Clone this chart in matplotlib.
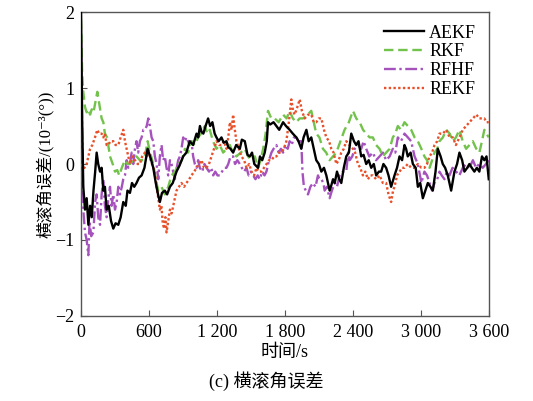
import matplotlib
matplotlib.use("Agg")
import matplotlib.pyplot as plt

# 横滚角误差 (10^-3 deg) 读图得到的 (时间 s, 误差) 点
aekf = [(0, 2.0), (10, 0.6), (20, -0.3), (35, -0.6), (50, -0.45), (65, -0.8), (80, -0.55), (95, -0.7),
        (110, -0.35), (125, -0.1), (138, 0.15), (152, 0.0), (168, -0.1), (182, -0.05), (197, -0.35),
        (211, -0.3), (226, -0.6), (245, -0.55), (265, -0.75), (285, -0.85), (305, -0.78), (329, -0.8),
        (350, -0.7), (373, -0.5), (395, -0.55), (410, -0.35), (432, -0.38), (450, -0.25), (470, -0.3),
        (490, -0.25), (512, -0.18), (535, -0.15), (560, -0.05), (588, 0.2), (605, 0.12), (620, 0.05),
        (638, -0.05), (660, -0.25), (680, -0.4), (696, -0.5), (715, -0.38), (740, -0.35), (760, -0.4),
        (785, -0.3), (810, -0.25), (843, -0.1), (870, -0.02), (902, 0.1), (930, 0.15), (960, 0.3),
        (990, 0.25), (1020, 0.4), (1035, 0.35), (1050, 0.5), (1065, 0.42), (1080, 0.4), (1100, 0.5),
        (1122, 0.6), (1140, 0.5), (1160, 0.55), (1180, 0.4), (1196, 0.35), (1215, 0.3), (1240, 0.35),
        (1260, 0.28), (1284, 0.3), (1300, 0.22), (1320, 0.2), (1343, 0.15), (1370, 0.25), (1402, 0.2),
        (1420, 0.32), (1446, 0.3), (1470, 0.12), (1490, 0.1), (1510, 0.15), (1530, 0.0), (1563, -0.05),
        (1580, 0.1), (1600, 0.05), (1622, 0.15), (1640, 0.3), (1651, 0.55), (1670, 0.52), (1700, 0.55),
        (1725, 0.5), (1750, 0.45), (1784, 0.55), (1810, 0.5), (1842, 0.45), (1870, 0.4), (1901, 0.35),
        (1920, 0.3), (1945, 0.2), (1965, 0.35), (1990, 0.45), (2010, 0.3), (2033, 0.35), (2055, 0.2),
        (2077, 0.05), (2100, 0.0), (2122, -0.1), (2145, -0.05), (2166, -0.15), (2195, -0.35),
        (2210, -0.28), (2225, -0.2), (2240, -0.25), (2260, -0.1), (2280, -0.2), (2298, -0.25),
        (2320, -0.05), (2342, 0.1), (2365, 0.15), (2386, 0.4), (2410, 0.3), (2430, 0.25), (2450, 0.3),
        (2474, 0.1), (2495, 0.12), (2518, 0.0), (2540, 0.05), (2562, -0.05), (2585, 0.0), (2606, -0.15),
        (2630, -0.1), (2650, -0.1), (2670, 0.0), (2694, -0.05), (2715, -0.15), (2738, -0.3),
        (2768, -0.15), (2790, -0.05), (2812, 0.1), (2835, 0.05), (2856, 0.25), (2870, 0.2), (2885, 0.1),
        (2910, 0.15), (2930, 0.0), (2955, -0.05), (2974, -0.3), (2995, -0.25), (3018, -0.45),
        (3040, -0.35), (3062, -0.25), (3085, -0.3), (3106, -0.35), (3130, -0.1), (3150, 0.2),
        (3175, 0.1), (3194, 0.0), (3215, -0.05), (3238, -0.15), (3268, -0.35), (3297, -0.1),
        (3320, 0.0), (3341, 0.15), (3365, 0.05), (3385, -0.1), (3410, -0.05), (3429, 0.0),
        (3450, -0.05), (3473, -0.1), (3495, -0.05), (3517, -0.1), (3540, 0.1), (3561, 0.05),
        (3580, 0.1), (3600, -0.2)]

rkf = [(0, 1.9), (10, 1.2), (20, 0.95), (35, 0.75), (50, 0.68), (65, 0.72), (80, 0.65), (95, 0.72),
       (110, 0.68), (125, 0.8), (144, 0.95), (160, 0.8), (182, 0.6), (197, 0.55), (211, 0.4), (230, 0.35),
       (256, 0.1), (280, 0.0), (300, -0.1), (320, -0.08), (338, -0.15), (360, -0.05), (388, 0.05),
       (410, 0.0), (432, 0.0), (460, 0.05), (490, 0.1), (520, 0.05), (550, 0.05), (570, 0.15),
       (588, 0.3), (610, 0.15), (638, 0.0), (660, -0.2), (682, -0.35), (710, -0.3), (740, -0.4),
       (770, -0.3), (799, -0.15), (830, -0.1), (858, 0.0), (890, 0.05), (917, 0.2), (945, 0.15),
       (975, 0.3), (1005, 0.25), (1034, 0.35), (1060, 0.4), (1093, 0.5), (1115, 0.4), (1137, 0.45),
       (1165, 0.3), (1196, 0.2), (1225, 0.25), (1255, 0.15), (1285, 0.2), (1314, 0.25), (1340, 0.15),
       (1372, 0.1), (1410, 0.15), (1446, 0.2), (1475, 0.1), (1505, 0.05), (1535, 0.1), (1563, -0.05),
       (1585, 0.05), (1608, 0.2), (1630, 0.4), (1651, 0.7), (1680, 0.6), (1710, 0.6), (1745, 0.55),
       (1784, 0.65), (1815, 0.6), (1842, 0.7), (1870, 0.6), (1901, 0.55), (1930, 0.6), (1960, 0.6),
       (2000, 0.65), (2033, 0.7), (2055, 0.55), (2077, 0.4), (2105, 0.35), (2136, 0.2), (2165, 0.15),
       (2195, 0.05), (2225, 0.1), (2254, 0.15), (2290, 0.3), (2327, 0.45), (2365, 0.55), (2401, 0.7),
       (2430, 0.6), (2460, 0.55), (2490, 0.45), (2518, 0.4), (2548, 0.35), (2577, 0.35), (2605, 0.25),
       (2636, 0.2), (2665, 0.1), (2694, 0.15), (2725, 0.2), (2753, 0.35), (2775, 0.4), (2797, 0.5),
       (2825, 0.45), (2856, 0.55), (2885, 0.5), (2915, 0.45), (2945, 0.35), (2974, 0.3), (3005, 0.2),
       (3032, 0.1), (3055, 0.05), (3077, -0.05), (3100, 0.05), (3121, 0.15), (3145, 0.2), (3165, 0.3),
       (3195, 0.35), (3224, 0.45), (3255, 0.4), (3283, 0.3), (3310, 0.35), (3341, 0.45), (3370, 0.3),
       (3400, 0.2), (3430, 0.25), (3459, 0.3), (3490, 0.2), (3517, 0.15), (3540, 0.3), (3561, 0.45),
       (3580, 0.4), (3600, 0.35)]

rfhf = [(0, 1.6), (10, 0.4), (20, -0.6), (35, -0.9), (50, -1.0), (65, -1.2), (75, -0.75), (90, -0.95),
        (109, -0.9), (125, -0.5), (138, -0.4), (152, -0.7), (168, -0.8), (182, -0.4), (197, -0.2),
        (211, -0.55), (226, -0.7), (241, -0.45), (256, -0.3), (270, -0.55), (285, -0.4), (300, -0.6),
        (315, -0.5), (329, -0.3), (344, -0.4), (360, -0.3), (373, -0.2), (388, -0.15), (403, 0.05),
        (417, -0.05), (432, 0.0), (447, 0.15), (461, 0.0), (476, 0.2), (490, 0.3), (505, 0.15),
        (520, 0.3), (535, 0.35), (550, 0.45), (564, 0.45), (580, 0.5), (594, 0.6), (608, 0.5),
        (623, 0.35), (638, 0.3), (652, 0.1), (667, 0.0), (682, -0.2), (696, 0.1), (711, 0.25),
        (725, 0.05), (740, 0.1), (755, -0.05), (770, -0.15), (785, 0.05), (799, 0.0), (814, -0.1),
        (828, -0.2), (845, -0.05), (858, 0.05), (873, 0.1), (887, 0.2), (902, 0.35), (917, 0.3),
        (931, 0.35), (946, 0.3), (960, 0.25), (975, 0.3), (990, 0.1), (1005, 0.0), (1020, -0.05),
        (1034, 0.05), (1049, -0.05), (1070, -0.1), (1090, 0.0), (1108, -0.05), (1130, -0.1),
        (1150, -0.05), (1167, -0.15), (1185, -0.1), (1205, -0.15), (1225, -0.15), (1245, -0.1),
        (1265, -0.05), (1284, -0.05), (1300, 0.0), (1320, 0.1), (1343, 0.1), (1360, 0.0), (1380, 0.05),
        (1402, 0.0), (1420, -0.05), (1440, -0.1), (1461, -0.05), (1480, -0.15), (1500, -0.1),
        (1520, -0.15), (1540, -0.2), (1560, -0.15), (1578, -0.2), (1600, -0.1), (1620, -0.15),
        (1637, -0.1), (1660, 0.05), (1681, 0.15), (1700, 0.2), (1725, 0.25), (1745, 0.15), (1765, 0.2),
        (1784, 0.15), (1805, 0.25), (1825, 0.2), (1842, 0.3), (1860, 0.25), (1880, 0.35), (1901, 0.35),
        (1920, 0.3), (1945, 0.3), (1955, -0.1), (1968, -0.3), (1985, -0.35), (2004, -0.4),
        (2025, -0.3), (2048, -0.25), (2070, -0.3), (2092, -0.15), (2105, -0.2), (2122, -0.2),
        (2140, -0.25), (2151, -0.35), (2170, -0.3), (2195, -0.45), (2215, -0.35), (2239, -0.25),
        (2260, -0.3), (2283, -0.15), (2310, -0.1), (2342, -0.1), (2358, 0.15), (2372, 0.05),
        (2395, 0.1), (2416, 0.2), (2445, 0.25), (2474, 0.2), (2495, 0.3), (2518, 0.2), (2545, 0.1),
        (2577, 0.15), (2605, 0.05), (2636, 0.1), (2665, 0.15), (2694, 0.05), (2725, 0.1), (2753, 0.2),
        (2775, 0.15), (2797, 0.35), (2825, 0.3), (2856, 0.4), (2885, 0.35), (2915, 0.3), (2945, 0.1),
        (2974, 0.0), (3005, -0.25), (3032, -0.1), (3055, -0.15), (3077, -0.25), (3100, -0.35),
        (3121, -0.25), (3145, -0.2), (3165, -0.1), (3185, -0.15), (3209, -0.2), (3230, -0.1),
        (3253, -0.15), (3280, -0.05), (3312, -0.1), (3340, -0.15), (3371, -0.05), (3400, 0.0),
        (3429, -0.05), (3460, 0.05), (3488, -0.05), (3515, 0.0), (3547, -0.05), (3575, 0.0),
        (3600, 0.05)]

rekf = [(0, 0.0), (15, -0.05), (30, -0.05), (50, 0.0), (65, 0.1), (80, 0.2), (100, 0.25), (123, 0.35),
        (144, 0.45), (160, 0.4), (182, 0.4), (197, 0.35), (211, 0.4), (226, 0.25), (241, 0.25),
        (260, 0.3), (285, 0.3), (305, 0.25), (329, 0.25), (350, 0.35), (373, 0.45), (388, 0.3),
        (403, 0.2), (418, 0.1), (432, 0.0), (455, 0.1), (476, 0.05), (500, 0.0), (520, 0.0), (540, 0.1),
        (564, 0.15), (580, 0.1), (594, 0.2), (615, 0.05), (638, -0.05), (652, -0.1), (667, -0.3),
        (682, -0.45), (696, -0.6), (710, -0.55), (720, -0.75), (732, -0.85), (745, -0.7), (755, -0.9),
        (770, -0.75), (785, -0.6), (800, -0.65), (814, -0.55), (828, -0.45), (843, -0.35), (865, -0.3),
        (887, -0.25), (910, -0.3), (931, -0.25), (955, -0.2), (975, -0.15), (1000, -0.1), (1020, -0.05),
        (1040, 0.0), (1064, 0.05), (1085, -0.05), (1108, -0.05), (1130, 0.0), (1152, 0.1), (1175, 0.2),
        (1196, 0.3), (1220, 0.25), (1240, 0.25), (1262, 0.3), (1284, 0.2), (1300, 0.35), (1314, 0.55),
        (1330, 0.45), (1343, 0.65), (1358, 0.45), (1372, 0.3), (1395, 0.2), (1417, 0.1), (1440, 0.05),
        (1461, -0.05), (1485, 0.0), (1505, -0.1), (1528, -0.15), (1549, -0.05), (1570, -0.1),
        (1593, -0.1), (1615, -0.05), (1637, 0.0), (1660, 0.05), (1681, 0.05), (1705, 0.1), (1725, 0.1),
        (1750, 0.15), (1770, 0.15), (1790, 0.2), (1813, 0.3), (1835, 0.55), (1857, 0.85), (1872, 0.7),
        (1886, 0.65), (1910, 0.75), (1931, 0.85), (1950, 0.7), (1975, 0.6), (2005, 0.65), (2033, 0.65),
        (2055, 0.55), (2077, 0.55), (2100, 0.6), (2122, 0.6), (2145, 0.45), (2166, 0.35), (2190, 0.3),
        (2210, 0.2), (2230, 0.15), (2254, 0.0), (2275, 0.05), (2298, 0.15), (2320, 0.2), (2342, 0.3),
        (2370, 0.25), (2401, 0.2), (2420, 0.15), (2445, 0.0), (2465, -0.05), (2489, -0.15),
        (2510, -0.1), (2533, -0.2), (2555, -0.15), (2577, -0.15), (2605, -0.2), (2636, -0.15),
        (2665, -0.25), (2694, -0.25), (2715, -0.4), (2738, -0.5), (2755, -0.35), (2768, -0.3),
        (2790, -0.15), (2812, -0.1), (2835, -0.05), (2856, -0.05), (2885, 0.0), (2915, -0.05),
        (2945, -0.05), (2974, 0.0), (3005, -0.05), (3032, -0.05), (3055, 0.0), (3077, 0.1),
        (3100, 0.15), (3121, 0.25), (3145, 0.3), (3165, 0.4), (3195, 0.4), (3224, 0.45), (3255, 0.35),
        (3283, 0.35), (3310, 0.25), (3341, 0.35), (3370, 0.45), (3400, 0.5), (3430, 0.55), (3459, 0.6),
        (3490, 0.65), (3517, 0.6), (3540, 0.6), (3561, 0.6), (3580, 0.55), (3600, 0.55)]

x_ticks = [0, 600, 1200, 1800, 2400, 3000, 3600]
x_tick_labels = ["0", "600", "1 200", "1 800", "2 400", "3 000", "3 600"]
y_ticks = [-2, -1, 0, 1, 2]
y_tick_labels = ["\u22122", "\u22121", "0", "1", "2"]

plt.rcParams['font.family'] = ['Liberation Serif', 'Noto Sans CJK SC', 'DejaVu Serif']

fig = plt.figure(figsize=(5.33, 4.01), dpi=100)
ax = fig.add_axes([0.152, 0.212, 0.765, 0.758])


def draw(pts, **kw):
    ts, ys = zip(*pts)
    ax.plot(ts, ys, **kw)


draw(aekf, color='black', lw=1.7, ls='-', label='AEKF', zorder=5)
draw(rkf, color='#72c24c', lw=1.7, ls=(0, (4, 2)), label='RKF', zorder=4)
draw(rfhf, color='#a652bd', lw=1.7, ls=(0, (5, 1.5, 1, 1.5)), label='RFHF', zorder=3)
draw(rekf, color='#e8502a', lw=1.7, ls=(0, (1, 1)), label='REKF', zorder=4)

ax.set_xlim(0, 3600)
ax.set_ylim(-2, 2)
ax.set_xticks(x_ticks)
ax.set_xticklabels(x_tick_labels, fontsize=13)
ax.set_yticks(y_ticks)
ax.set_yticklabels(y_tick_labels, fontsize=13)
ax.tick_params(direction='in', length=4, color='#555555')
ax.tick_params(axis='x', pad=6)
ax.tick_params(axis='y', pad=5)
for s in ax.spines.values():
    s.set_color('#555555')
    s.set_linewidth(1.0)

ax.set_xlabel('时间/s', fontsize=13, labelpad=2)
ax.set_ylabel('横滚角误差/(10\u207b\u00b3(°))', fontsize=12, labelpad=1)

ax.legend(loc='upper right', frameon=False, fontsize=13, handlelength=2.2,
          handletextpad=0.3, labelspacing=0.1, borderaxespad=0.3)

fig.text(0.5, 0.035, '(c) 横滚角误差', ha='center', fontsize=13)

fig.savefig('out.png', dpi=100)
